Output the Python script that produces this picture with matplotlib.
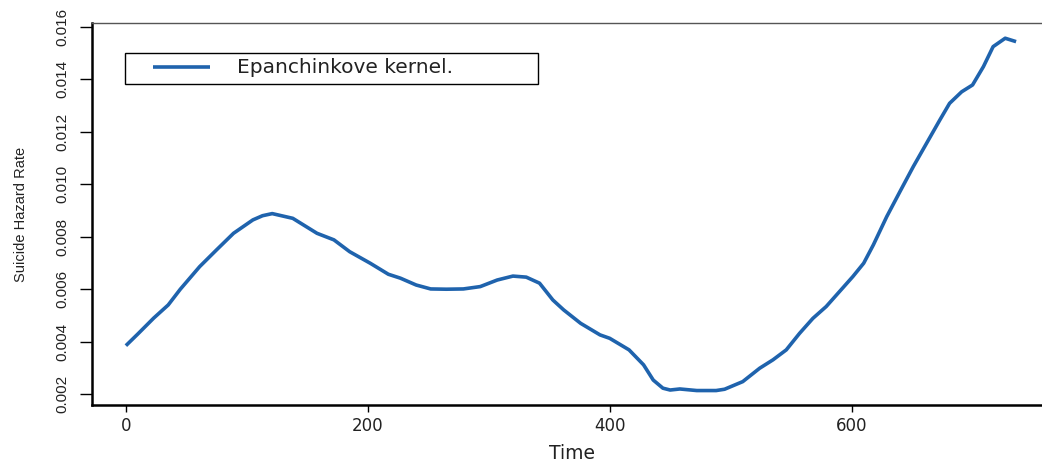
import matplotlib
matplotlib.use("Agg")
import matplotlib.pyplot as plt
from matplotlib.patches import Rectangle

# Kernel-smoothed hazard estimate (Epanechnikov kernel)
time_pts = [0, 10, 23, 35, 45, 61, 75, 89, 105, 113, 121, 138, 158, 172, 185,
            202, 217, 227, 240, 252, 265, 279, 293, 307, 320, 331, 342, 353,
            362, 376, 392, 400, 416, 428, 436, 444, 450, 458, 472, 488, 495,
            510, 524, 535, 546, 557, 568, 579, 590, 601, 610, 618, 629, 640,
            651, 662, 673, 681, 691, 700, 709, 717, 727, 736]
hazard = [0.00385, 0.0043, 0.0049, 0.0054, 0.0060, 0.00686, 0.0075, 0.00813,
          0.00864, 0.0088, 0.00888, 0.0087, 0.00813, 0.00788, 0.00743,
          0.00699, 0.00657, 0.00642, 0.00616, 0.00601, 0.0060, 0.00601,
          0.0061, 0.00635, 0.0065, 0.00646, 0.00623, 0.00559, 0.00521,
          0.0047, 0.00426, 0.00413, 0.00369, 0.00312, 0.00254, 0.00223,
          0.00216, 0.0022, 0.00214, 0.00214, 0.00219, 0.00248, 0.00299,
          0.00331, 0.00369, 0.00432, 0.00489, 0.00534, 0.00591, 0.00648,
          0.00699, 0.00769, 0.00876, 0.00972, 0.01067, 0.01156, 0.01245,
          0.01308, 0.01352, 0.01378, 0.01448, 0.01524, 0.01556, 0.01543]

x_ticks = [0, 200, 400, 600]
y_ticks = [0.002, 0.004, 0.006, 0.008, 0.010, 0.012, 0.014, 0.016]
y_ticklabels = ["0.002", "0.004", "0.006", "0.008", "0.010", "0.012", "0.014", "0.016"]
legend_label = "Epanchinkove kernel."

sans = ["Liberation Sans", "DejaVu Sans"]
txt_col = "#222222"
line_col = "#1f63ad"

fig = plt.figure(figsize=(10.42, 4.63), dpi=100)
ax = fig.add_axes([0.0883, 0.1253, 0.9205, 0.825])

ax.plot(time_pts, hazard, color=line_col, lw=2.6, solid_capstyle="butt",
        solid_joinstyle="round")

ax.set_xlim(-28, 765)
ax.set_ylim(0.00159, 0.01614)

ax.set_xticks(x_ticks)
ax.set_xticklabels([str(v) for v in x_ticks], fontsize=12,
                   family="DejaVu Sans", color=txt_col)
ax.set_yticks(y_ticks)
ax.set_yticklabels(y_ticklabels, fontsize=11, family=sans,
                   color=txt_col, rotation=90, va="center")

ax.tick_params(axis="x", direction="out", length=5, width=1, pad=4)
ax.tick_params(axis="y", direction="out", length=9, width=1, pad=7)

for side in ("left", "bottom"):
    ax.spines[side].set_linewidth(1.8)
    ax.spines[side].set_color("black")
ax.spines["top"].set_linewidth(1.0)
ax.spines["top"].set_color("#555555")
ax.spines["right"].set_visible(False)

ax.set_xlabel("Time", fontsize=13.5, family="DejaVu Sans", color=txt_col,
              labelpad=6)
ax.set_ylabel("Suicide Hazard Rate", fontsize=10.5, family=sans,
              color=txt_col, labelpad=20)

# legend box drawn in axes coordinates
ax.add_patch(Rectangle((0.0344, 0.8403), 0.4306, 0.0812, transform=ax.transAxes,
                       facecolor="white", edgecolor="black", lw=1.0, zorder=3))
ax.plot([0.0633, 0.1230], [0.884, 0.884], transform=ax.transAxes,
        color=line_col, lw=2.6, solid_capstyle="butt", zorder=4)
ax.text(0.1512, 0.8683, legend_label, transform=ax.transAxes, fontsize=14.5,
        family="DejaVu Sans", color=txt_col, va="baseline", ha="left", zorder=4)

fig.savefig("out.png", dpi=100)
